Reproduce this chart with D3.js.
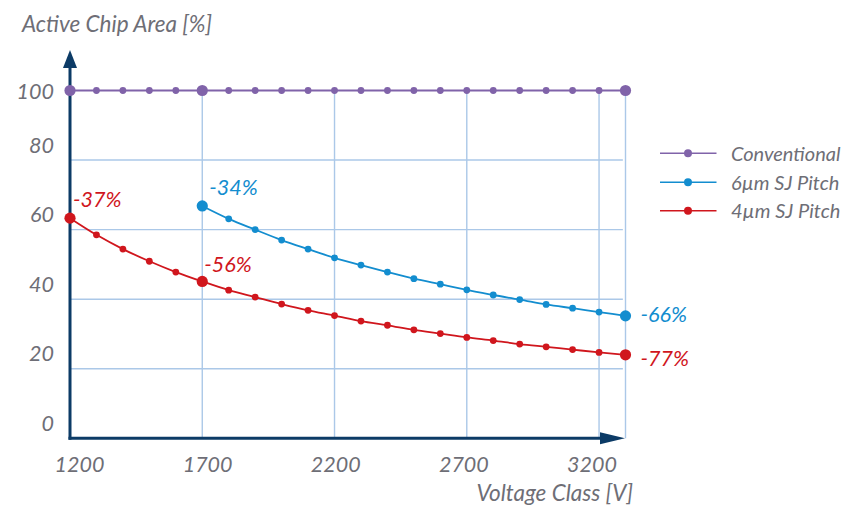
<!DOCTYPE html>
<html><head><meta charset="utf-8">
<script src="https://cdn.jsdelivr.net/npm/d3@7"></script>
<style>
html,body{margin:0;padding:0;background:#fff;}
text{font-family:Lato,"Open Sans",sans-serif;font-style:italic;}
</style></head>
<body><svg id="c" width="849" height="508"></svg>
<script>
const voltages = d3.range(1200, 3301, 100);
const conventional = voltages.map(() => 100);
const sj6Voltages = d3.range(1700, 3301, 100);
const sj6 = [66.8,63.1,60.0,57.0,54.4,51.9,49.8,47.8,45.9,44.3,42.7,41.2,39.9,38.5,37.4,36.3,35.2];
const sj4 = [63.3,58.5,54.4,50.9,47.8,45.1,42.6,40.6,38.6,36.8,35.3,33.7,32.5,31.2,30.1,29.0,28.1,27.1,26.3,25.5,24.7,24.0];
const xTicks = [1200,1700,2200,2700,3200];
const yTicks = [0,20,40,60,80,100];
const seriesNames = ["Conventional","6µm SJ Pitch","4µm SJ Pitch"];
const colors = ["#8063a9","#138dcf","#d0161d"];
const bigAt = [[1200,1700,3300],[1700,3300],[1200,1700,3300]];
const annotations = [
  {s:1, v:1700, text:"-34%"},
  {s:2, v:1200, text:"-37%"},
  {s:2, v:1700, text:"-56%"},
  {s:1, v:3300, text:"-66%"},
  {s:2, v:3300, text:"-77%"}
];

const svg = d3.select("#c");
const x = d3.scaleLinear().domain([1200,3300]).range([70,625.5]);
const y = d3.scaleLinear().domain([0,100]).range([438.3,90.5]);
const xLab = d3.scaleLinear().domain([1200,3200]).range([79.5,592]);
const textCol = "#6e6e76", gridCol = "#abc8e8", axisCol = "#0c3b66";

// gridlines
svg.append("g").selectAll("line").data([20,40,60,80]).join("line")
  .attr("x1", x(1200)).attr("x2", x(3290)).attr("y1", d=>y(d)).attr("y2", d=>y(d))
  .attr("stroke", gridCol).attr("stroke-width", 1.4);
svg.append("g").selectAll("line").data([1700,2200,2700,3200,3300]).join("line")
  .attr("x1", d=>x(d)).attr("x2", d=>x(d)).attr("y1", y(100)).attr("y2", y(0))
  .attr("stroke", gridCol).attr("stroke-width", 1.4);

// axes with arrows
svg.append("line").attr("x1", x(1200)).attr("x2", x(1200)).attr("y1", y(0)+1.5).attr("y2", 66)
  .attr("stroke", axisCol).attr("stroke-width", 3);
svg.append("path").attr("d", `M${x(1200)-7},68 L${x(1200)},50 L${x(1200)+7},68 Z`).attr("fill", axisCol);
svg.append("line").attr("x1", x(1200)-1.5).attr("x2", 602).attr("y1", y(0)).attr("y2", y(0))
  .attr("stroke", axisCol).attr("stroke-width", 3);
svg.append("path").attr("d", `M600,${y(0)-6} L625,${y(0)} L600,${y(0)+6} Z`).attr("fill", axisCol);

// tick labels
svg.append("g").selectAll("text").data(xTicks).join("text")
  .attr("x", d=>xLab(d)).attr("y", 472).attr("text-anchor","middle")
  .attr("font-size", 21.5).attr("fill", textCol).text(d=>d);
svg.append("g").selectAll("text").data(yTicks).join("text")
  .attr("x", 54).attr("y", d=> d===100 ? y(d)+8.5 : y(d)-7.5).attr("text-anchor","end")
  .attr("font-size", 21.5).attr("fill", textCol).text(d=>d);

// axis titles
svg.append("text").attr("x", 22).attr("y", 32).attr("font-size", 22.5).attr("fill", textCol).text("Active Chip Area [%]");
svg.append("text").attr("x", 633).attr("y", 501).attr("text-anchor","end").attr("font-size", 22.5).attr("fill", textCol).text("Voltage Class [V]");

// series
const series = [
  voltages.map((v,i)=>({v, val:conventional[i]})),
  sj6Voltages.map((v,i)=>({v, val:sj6[i]})),
  voltages.map((v,i)=>({v, val:sj4[i]}))
];
const line = d3.line().x(d=>x(d.v)).y(d=>y(d.val)).curve(d3.curveMonotoneX);
series.forEach((data, s) => {
  const g = svg.append("g");
  g.append("path").datum(data).attr("d", line).attr("fill","none").attr("stroke", colors[s]).attr("stroke-width", 1.8);
  g.selectAll("circle").data(data).join("circle")
    .attr("cx", d=>x(d.v)).attr("cy", d=>y(d.val))
    .attr("r", d=> bigAt[s].includes(d.v) ? 5.6 : 3.4)
    .attr("fill", colors[s]);
});

// annotations
const annOffset = {"-34%":[7,-11],"-37%":[3,-11],"-56%":[2,-9.5],"-66%":[15,6.5],"-77%":[15,11]};
annotations.forEach(a => {
  const data = series[a.s].find(d=>d.v===a.v);
  const o = annOffset[a.text];
  svg.append("text").attr("x", x(a.v)+o[0]).attr("y", y(data.val)+o[1])
    .attr("font-size", 21.5).attr("fill", colors[a.s]).text(a.text);
});

// legend
const legY = [153.3,182.3,210.7];
seriesNames.forEach((n,i) => {
  svg.append("line").attr("x1",660).attr("x2",716.5).attr("y1",legY[i]).attr("y2",legY[i]).attr("stroke",colors[i]).attr("stroke-width",1.6);
  svg.append("circle").attr("cx",688).attr("cy",legY[i]).attr("r",4).attr("fill",colors[i]);
  svg.append("text").attr("x",731).attr("y",legY[i]+7.5).attr("font-size",20).attr("fill",textCol).text(n);
});
</script></body></html>
